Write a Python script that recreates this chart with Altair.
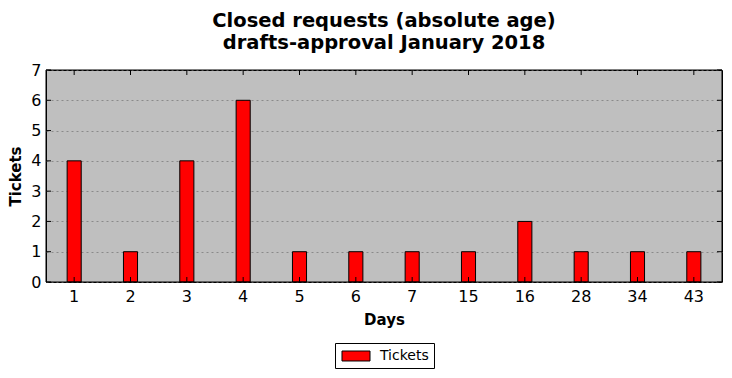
import altair as alt
import pandas as pd

days = ["1", "2", "3", "4", "5", "6", "7", "15", "16", "28", "34", "43"]
tickets = [4, 1, 4, 6, 1, 1, 1, 1, 2, 1, 1, 1]
y_ticks = [0, 1, 2, 3, 4, 5, 6, 7]

W, H = 676, 212
FONT = "DejaVu Sans"

df = pd.DataFrame({"Days": days, "Tickets": tickets, "series": ["Tickets"] * len(days)})
ydf = pd.DataFrame({"Tickets": y_ticks})
one = pd.DataFrame({"a": [0]})

xscale = alt.Scale(domain=days, paddingInner=0.75, paddingOuter=0.375)
yscale = alt.Scale(domain=[0, 7], nice=False)

xaxis = alt.Axis(title="Days", labelAngle=0, tickSize=0, domain=False,
                 labelFontSize=16, labelFont=FONT, labelColor="black",
                 labelPadding=6, titleFont=FONT, titleFontSize=15,
                 titleFontWeight="bold", titleColor="black", titlePadding=8)
yaxis = alt.Axis(title="Tickets", values=y_ticks, tickSize=0, domain=False,
                 labelOverlap=False,
                 labelFontSize=16, labelFont=FONT, labelColor="black",
                 labelPadding=5, grid=True, gridColor="#8a8a8a",
                 gridDash=[2, 3], gridWidth=1,
                 titleFont=FONT, titleFontSize=15, titleFontWeight="bold",
                 titleColor="black", titlePadding=7)

bars = alt.Chart(df).mark_bar(stroke="black", strokeWidth=1, opacity=1).encode(
    x=alt.X("Days:N", sort=days, scale=xscale, axis=xaxis),
    y=alt.Y("Tickets:Q", scale=yscale, axis=yaxis),
    color=alt.Color("series:N", scale=alt.Scale(domain=["Tickets"], range=["#ff0000"]),
                    legend=alt.Legend(title=None, orient="none", legendX=289, legendY=273,
                                      symbolType="M-1.98,-0.707H1.98V0.707H-1.98Z", symbolSize=200,
                                      symbolStrokeColor="black", symbolStrokeWidth=1,
                                      symbolFillColor="#ff0000", symbolOffset=8,
                                      labelFont=FONT, labelFontSize=14, labelColor="black",
                                      strokeColor="black", fillColor="white", padding=5,
                                      cornerRadius=0, labelOffset=16)),
)

bottom_ticks = alt.Chart(df).mark_rule(color="black", strokeWidth=1).encode(
    x=alt.X("Days:N", sort=days, scale=xscale, axis=xaxis),
    y=alt.value(H), y2=alt.value(H - 5))
top_ticks = alt.Chart(df).mark_rule(color="black", strokeWidth=1).encode(
    x=alt.X("Days:N", sort=days, scale=xscale, axis=xaxis),
    y=alt.value(0), y2=alt.value(5))
left_ticks = alt.Chart(ydf).mark_rule(color="black", strokeWidth=1).encode(
    y=alt.Y("Tickets:Q", scale=yscale, axis=yaxis), x=alt.value(0), x2=alt.value(5))
right_ticks = alt.Chart(ydf).mark_rule(color="black", strokeWidth=1).encode(
    y=alt.Y("Tickets:Q", scale=yscale, axis=yaxis), x=alt.value(W), x2=alt.value(W - 5))
border = alt.Chart(one).mark_rect(filled=False, stroke="black", strokeWidth=1).encode(
    x=alt.value(0), x2=alt.value(W), y=alt.value(0), y2=alt.value(H))

chart = alt.layer(bars, bottom_ticks, top_ticks, left_ticks, right_ticks, border).properties(
    width=W, height=H,
    title=alt.TitleParams(["Closed requests (absolute age)", "drafts-approval January 2018"],
                          font=FONT, fontSize=19.5, fontWeight="bold", color="black",
                          anchor="middle", offset=9, lineHeight=22),
    autosize=alt.AutoSizeParams(type="none"),
    padding={"left": 46, "top": 70, "right": 10, "bottom": 96},
    background="white",
).configure_view(fill="#bfbfbf", stroke="black", strokeWidth=1)

chart.save("out.html", embed_options={"renderer": "svg", "actions": False})
